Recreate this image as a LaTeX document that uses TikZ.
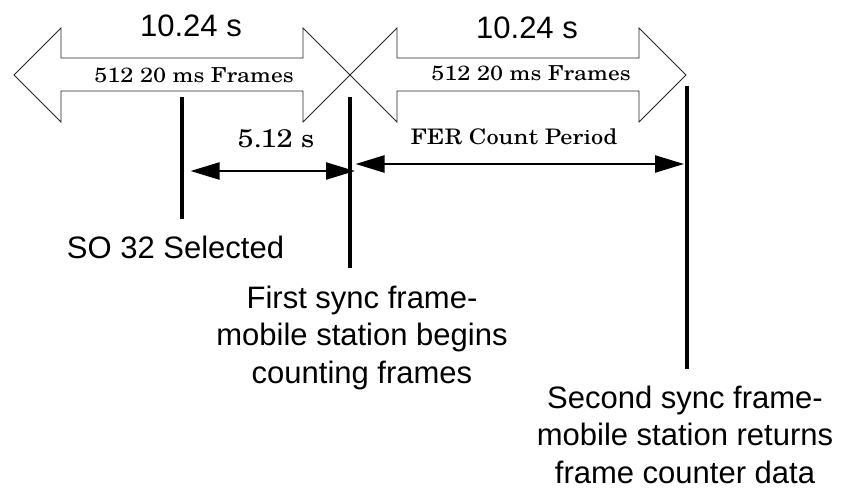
\documentclass[tikz,border=0pt]{standalone}
\usepackage{fontspec}
\setsansfont{Liberation Sans}
\newfontfamily\cent{texgyreschola-regular.otf}[FakeStretch=1.14]
\usetikzlibrary{arrows.meta}
\begin{document}
\begin{tikzpicture}[x=1pt,y=-1pt,
  blockarrow/.style={draw=black!85, line width=0.8pt, fill=white},
  vline/.style={line width=3.2pt},
  dimline/.style={line width=2.4pt, {Triangle[length=29pt,width=17pt]}-{Triangle[length=29pt,width=17pt]}},
  sanslbl/.style={font=\sffamily\fontsize{31}{37.5}\selectfont, align=center, inner sep=0pt},
  framelbl/.style={font=\cent\fontsize{20.6}{24}\selectfont, inner sep=0pt},
  durlbl/.style={font=\cent\fontsize{25.5}{30}\selectfont, inner sep=0pt},
  ferlbl/.style={font=\cent\fontsize{21.4}{25}\selectfont, inner sep=0pt}]
\useasboundingbox (0,0) rectangle (841,490);

% block double arrows
\draw[blockarrow] (350,75) -- (397,28) -- (397,58) -- (639,58) -- (639,28) -- (686,75)
  -- (639,122) -- (639,91) -- (397,91) -- (397,122) -- cycle;
\draw[blockarrow] (14,75) -- (61,28) -- (61,58) -- (303,58) -- (303,28) -- (350,75)
  -- (303,122) -- (303,91) -- (61,91) -- (61,122) -- cycle;

% labels on the block arrows
\node[sanslbl, anchor=base] (ta) at (191,36) {10.24 s};
\node[sanslbl, anchor=base] (tb) at (527,38) {10.24 s};
\node[framelbl, anchor=base] (fa) at (194,82) {512 20 ms Frames};
\node[framelbl, anchor=base] (fb) at (531,80) {512 20 ms Frames};

% event markers
\coordinate (m1top) at (182,97);  \coordinate (m1bot) at (182,219);
\coordinate (m2top) at (350,97);  \coordinate (m2bot) at (350,268);
\coordinate (m3top) at (687,86);  \coordinate (m3bot) at (687,369);
\draw[vline] (m1top) -- (m1bot);
\draw[vline] (m2top) -- (m2bot);
\draw[vline] (m3top) -- (m3bot);

% dimension arrows
\coordinate (d1l) at (190.5,171); \coordinate (d1r) at (355,171);
\coordinate (d2l) at (355.5,164); \coordinate (d2r) at (684,164);
\draw[dimline] (d1l) -- (d1r);
\draw[dimline] (d2l) -- (d2r);
\node[durlbl, anchor=base] (dur) at (276,147) {5.12 s};
\node[ferlbl, anchor=base] (fer) at (514,144) {FER Count Period};

% event captions (base anchor = baseline of the last line)
\node[sanslbl, anchor=base] (so) at (175.5,258) {SO 32 Selected};
\node[sanslbl, anchor=base] (first) at (362,383) {First sync frame-\\mobile station begins\\counting frames};
\node[sanslbl, anchor=base] (second) at (685,483) {Second sync frame-\\mobile station returns\\frame counter data};
\end{tikzpicture}
\end{document}
